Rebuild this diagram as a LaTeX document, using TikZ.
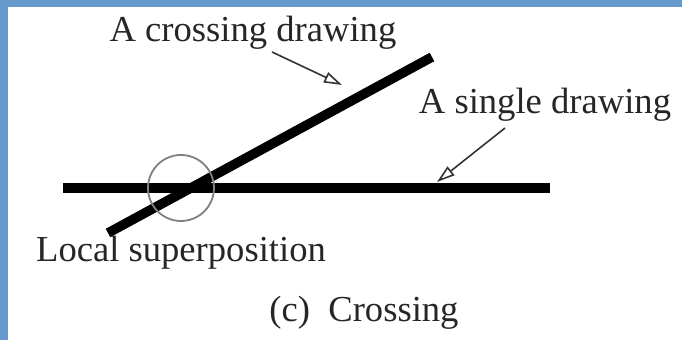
\documentclass[tikz,border=0pt]{standalone}
\usepackage{fontspec}
\setmainfont{Liberation Serif}
\usetikzlibrary{positioning,arrows.meta}
\definecolor{frameblue}{HTML}{6699CC}
\definecolor{ringgrey}{HTML}{808080}
\tikzset{
  stroke/.style  ={line width=4.8pt, draw=black, line cap=butt},
  ring/.style    ={draw=ringgrey, line width=0.9pt},
  pointer/.style ={-{Triangle[open,length=9pt,width=5.5pt]}, line width=0.8pt, draw=black!80},
  lbl/.style     ={font=\fontsize{18.3}{22}\selectfont, text=black!85, inner sep=0pt, anchor=base}
}

\begin{document}
\begin{tikzpicture}[x=0.5pt,y=-0.5pt]
  \fill[frameblue] (0,0) rectangle (682,340);
  \fill[white] (8,7) rectangle (682,340);
  \useasboundingbox (0,0) rectangle (682,340);
  % the two drawings
  \coordinate (h1) at (63,188);  \coordinate (h2) at (550,188);
  \coordinate (c1) at (108,233); \coordinate (c2) at (432,57);
  \draw[stroke] (h1)--(h2);
  \draw[stroke] (c1)--(c2);
  \draw[ring] (181,188) circle [radius=16.5pt];
  % labels
  \node[lbl] (crosslbl) at (253,42) {A crossing drawing};
  \node[lbl] (singlelbl) at (545,114) {A single drawing};
  \node[lbl] (locallbl) at (181,262) {Local superposition};
  \node[lbl] (caption) at (364,322) {(c)\ \ Crossing};
  \coordinate (crosstail) at (272,52);  \coordinate (crosstip) at (342,85);
  \coordinate (singletail) at (505,128); \coordinate (singletip) at (437,182);
  \draw[pointer] (crosstail)--(crosstip);
  \draw[pointer] (singletail)--(singletip);
\end{tikzpicture}
\end{document}
